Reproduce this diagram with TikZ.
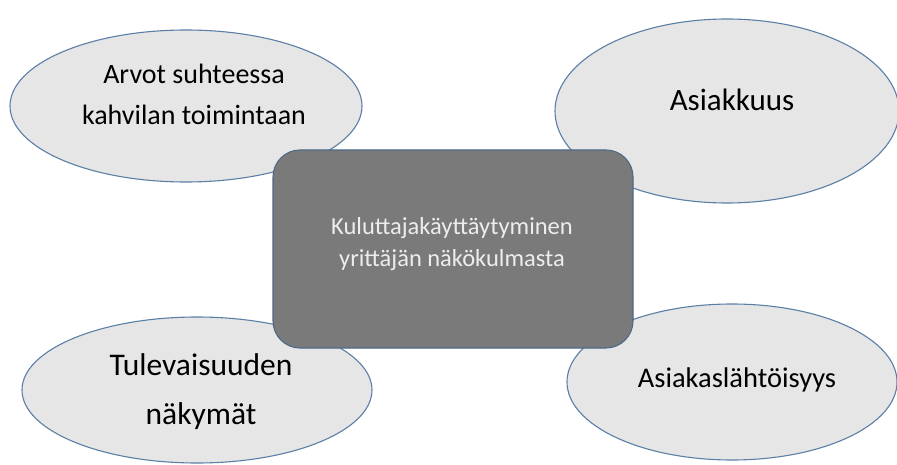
\documentclass[tikz,border=0pt]{standalone}
\usepackage{fontspec}
\setmainfont{Carlito}
\usetikzlibrary{shapes.geometric}
\definecolor{ellfill}{HTML}{E6E6E6}
\definecolor{ellline}{HTML}{5B7FA6}
\definecolor{boxfill}{HTML}{7A7A7A}
\definecolor{boxline}{HTML}{4D6A88}
\definecolor{boxtext}{HTML}{EDEDED}
\tikzset{
  bubble/.style={ellipse, draw=ellline, fill=ellfill, line width=1.1pt, inner sep=0pt},
  centerbox/.style={rectangle, rounded corners=27pt, draw=boxline, fill=boxfill, line width=1.1pt, inner sep=0pt},
  bubbletext/.style={align=center, text=black, inner sep=0pt},
}
\begin{document}
\begin{tikzpicture}[x=1pt,y=-1pt]
\useasboundingbox[fill=white] (0,0) rectangle (897,465);
% ellipses
\node[bubble, minimum width=352pt, minimum height=152pt] (e1) at (186,106) {};
\node[bubble, minimum width=344pt, minimum height=184pt] (e2) at (727,111) {};
\node[bubble, minimum width=350pt, minimum height=146pt] (e3) at (197,390) {};
\node[bubble, minimum width=330pt, minimum height=156pt] (e4) at (732,382) {};
% central box
\node[centerbox, minimum width=360pt, minimum height=198pt] (c) at (453,249) {};
% texts
\node[bubbletext, font=\fontsize{28}{41}\selectfont] (t1) at (194,94) {Arvot suhteessa\\kahvilan toimintaan};
\node[bubbletext, font=\fontsize{31}{36}\selectfont] (t2) at (732,100) {Asiakkuus};
\node[bubbletext, font=\fontsize{31.5}{49}\selectfont] (t3) at (201,392) {Tulevaisuuden\\näkymät};
\node[bubbletext, font=\fontsize{28.5}{34}\selectfont] (t4) at (737,380) {Asiakaslähtöisyys};
\node[bubbletext, text=boxtext, font=\fontsize{24.5}{32}\selectfont] (tc) at (452,244) {Kuluttajakäyttäytyminen\\yrittäjän näkökulmasta};
\end{tikzpicture}
\end{document}
